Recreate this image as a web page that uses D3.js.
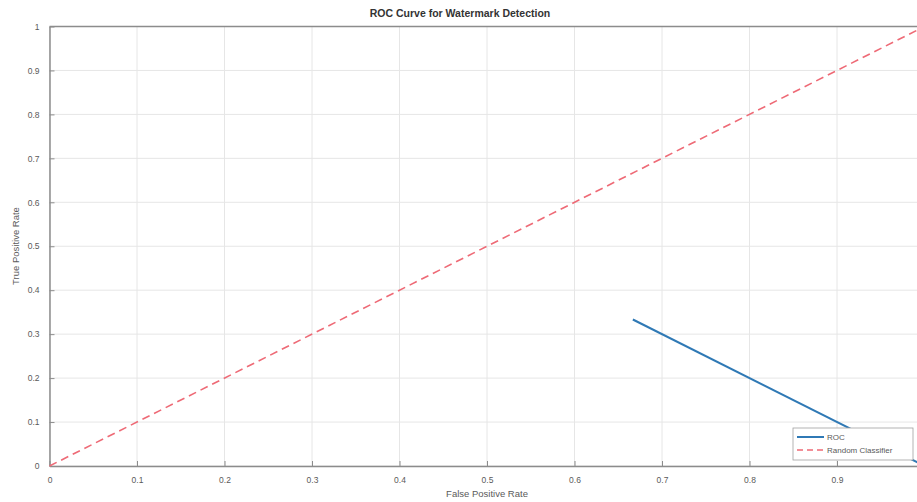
<!DOCTYPE html>
<html>
<head>
<meta charset="utf-8">
<script src="https://d3js.org/d3.v7.min.js"></script>
<style>
  body { margin: 0; background: #fff; overflow: hidden; }
  svg { display: block; font-family: "Liberation Sans", Arial, sans-serif; }
</style>
</head>
<body>
<div id="chart"></div>
<script>
// data
const rocFpr = [0.6667, 1.0];
const rocTpr = [0.3333, 0.0];
const randFpr = [0, 1];
const randTpr = [0, 1];
const xTicks = [0, 0.1, 0.2, 0.3, 0.4, 0.5, 0.6, 0.7, 0.8, 0.9, 1];
const yTicks = [0, 0.1, 0.2, 0.3, 0.4, 0.5, 0.6, 0.7, 0.8, 0.9, 1];
const legendLabels = ["ROC", "Random Classifier"];

const W = 917, H = 502;
const mLeft = 49.5, mTop = 26.5, mRight = 924.5, mBottom = 466;

const svg = d3.select("#chart").append("svg")
  .attr("width", W).attr("height", H);

const x = d3.scaleLinear().domain([0, 1]).range([mLeft, mRight]);
const y = d3.scaleLinear().domain([0, 1]).range([mBottom, mTop]);

const axisCol = "#8c8c8c";
const textCol = "#5a5a5a";

// grid
svg.append("g").selectAll("line.gx").data(xTicks).enter().append("line")
  .attr("x1", d => x(d)).attr("x2", d => x(d))
  .attr("y1", mTop).attr("y2", mBottom)
  .attr("stroke", "#e6e6e6").attr("stroke-width", 1);
svg.append("g").selectAll("line.gy").data(yTicks).enter().append("line")
  .attr("x1", mLeft).attr("x2", mRight)
  .attr("y1", d => y(d)).attr("y2", d => y(d))
  .attr("stroke", "#e6e6e6").attr("stroke-width", 1);

// axes (ticks inward, MATLAB style)
const fmt = d => d === 0 ? "0" : d === 1 ? "1" : d3.format(".1f")(d);
const xAxis = svg.append("g").attr("transform", "translate(0," + mBottom + ")")
  .call(d3.axisBottom(x).tickValues(xTicks).tickFormat(fmt).tickSizeInner(-5).tickSizeOuter(0).tickPadding(11));
const yAxis = svg.append("g").attr("transform", "translate(" + mLeft + ",0)")
  .call(d3.axisLeft(y).tickValues(yTicks).tickFormat(fmt).tickSizeInner(-5).tickSizeOuter(0).tickPadding(10));
[xAxis, yAxis].forEach(a => {
  a.select(".domain").attr("stroke", axisCol).attr("stroke-width", 1.5);
  a.selectAll(".tick line").attr("stroke", axisCol);
  a.selectAll(".tick text").attr("fill", textCol).style("font-size", "8.5px");
});
// the "1" label on x sits past the window edge (cropped in the original)
xAxis.selectAll(".tick text").filter(d => x(d) > W - 5).remove();

// top border
svg.append("line").attr("x1", mLeft).attr("x2", mRight)
  .attr("y1", mTop).attr("y2", mTop)
  .attr("stroke", axisCol).attr("stroke-width", 1.5);

const line = d3.line().x(d => x(d[0])).y(d => y(d[1]));

// random classifier
svg.append("path").datum(d3.zip(randFpr, randTpr))
  .attr("d", line).attr("fill", "none")
  .attr("stroke", "#ee6a76").attr("stroke-width", 1.6)
  .attr("stroke-dasharray", "8,5");

// roc
svg.append("path").datum(d3.zip(rocFpr, rocTpr))
  .attr("d", line).attr("fill", "none")
  .attr("stroke", "#2f79b5").attr("stroke-width", 2);

// title and labels
svg.append("text").attr("x", 460).attr("y", 17).attr("text-anchor", "middle")
  .attr("fill", "#333").style("font-size", "10.5px").style("font-weight", "bold")
  .text("ROC Curve for Watermark Detection");
svg.append("text").attr("x", 487).attr("y", 497).attr("text-anchor", "middle")
  .attr("fill", textCol).style("font-size", "9.5px")
  .text("False Positive Rate");
svg.append("text").attr("transform", "translate(19,246) rotate(-90)")
  .attr("text-anchor", "middle").attr("fill", textCol).style("font-size", "9.5px")
  .text("True Positive Rate");

// legend
const lg = svg.append("g").attr("transform", "translate(793,428)");
lg.append("rect").attr("width", 120).attr("height", 32)
  .attr("fill", "#fff").attr("stroke", "#a0a0a0").attr("stroke-width", 0.8);
const lgCols = ["#2f79b5", "#ee6a76"];
legendLabels.forEach((lab, i) => {
  const yy = 9 + i * 13;
  lg.append("line").attr("x1", 4).attr("x2", 31).attr("y1", yy).attr("y2", yy)
    .attr("stroke", lgCols[i]).attr("stroke-width", i === 0 ? 2 : 1.4)
    .attr("stroke-dasharray", i === 0 ? null : "6,4");
  lg.append("text").attr("x", 34).attr("y", yy + 3)
    .attr("fill", textCol).style("font-size", "8px").text(lab);
});
</script>
</body>
</html>
